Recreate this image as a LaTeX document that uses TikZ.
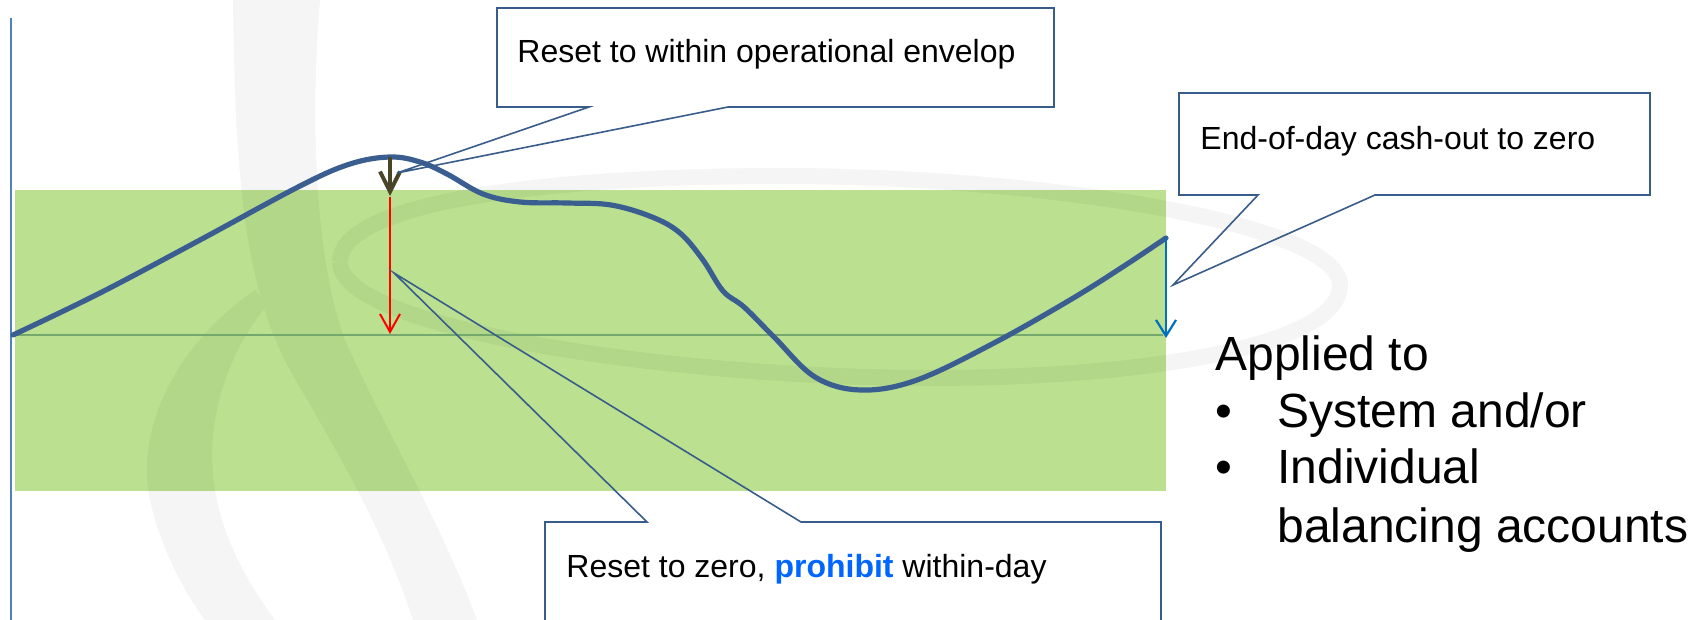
\documentclass[tikz,border=0pt]{standalone}
\usepackage{fontspec}
\setmainfont{Liberation Sans}
\usetikzlibrary{arrows.meta}

\definecolor{bandgreen}{RGB}{187,224,143}
\definecolor{zerogreen}{RGB}{116,168,108}
\definecolor{axisblue}{RGB}{79,129,189}
\definecolor{curveblue}{RGB}{59,94,145}
\definecolor{calloutblue}{RGB}{56,93,138}
\definecolor{darkolive}{RGB}{73,69,41}
\definecolor{endblue}{RGB}{0,112,192}
\definecolor{keyblue}{RGB}{0,102,255}

\tikzset{
  balance/.style={draw=curveblue, line width=2.6pt, line cap=round, line join=round},
  callout/.style={draw=calloutblue, line width=0.8pt, line join=miter},
  calltext/.style={anchor=base west, inner sep=0pt, font=\fontsize{16pt}{19pt}\selectfont},
  bigtext/.style={anchor=base west, inner sep=0pt, font=\fontsize{24pt}{28.5pt}\selectfont},
}

\begin{document}
\begin{tikzpicture}[x=0.5pt, y=-0.5pt]
\useasboundingbox (0,0) rectangle (1701,620);

% operational envelope band
\fill[bandgreen] (15,190) rectangle (1166,491);

% faint logo in the background
\begin{scope}[transparency group, opacity=0.04]
  % long right stroke of the crescent
  \fill[black] (233,0) .. controls (235,150) and (240,280) .. (290,370)
        .. controls (330,440) and (380,520) .. (413,620)
        -- (477,620) .. controls (440,520) and (380,420) .. (345,340)
        .. controls (315,260) and (310,120) .. (320,0) -- cycle;
  % short left stroke of the crescent
  \fill[black] (255,290) .. controls (175,345) and (135,430) .. (150,500)
        .. controls (162,555) and (190,600) .. (205,620)
        -- (275,620) .. controls (238,570) and (212,515) .. (212,455)
        .. controls (212,395) and (240,335) .. (268,305) -- cycle;
  % elliptic swoosh
  \draw[black, line width=8pt] (340,262) .. controls (340,200) and (560,176) .. (780,176)
        .. controls (1050,176) and (1340,225) .. (1340,285)
        .. controls (1340,345) and (1150,378) .. (930,378)
        .. controls (680,378) and (340,330) .. (340,262);
\end{scope}

% zero line and vertical axis
\coordinate (zl) at (13,335);
\coordinate (zr) at (1163,335);
\draw[zerogreen, line width=1pt] (zl) -- (zr);
\coordinate (ax0) at (11,18);
\coordinate (ax1) at (11,620);
\draw[axisblue, line width=0.75pt] (ax0) -- (ax1);

% within-day balance
\coordinate (cend) at (1166,238);
\draw[balance] plot[smooth, tension=0.6] coordinates {
  (13,335) (100,293) (200,240) (300,186) (350,164) (390,157)
  (420,162) (447,174) (483,194) (520,202) (567,203) (611,205) (652,217)
  (680,233) (703,260) (723,291) (744,307) (774,337) (815,377)
  (861,390) (917,380) (994,343) (1070,300) (1121,268) (1166,238)};

% reset arrows
\coordinate (pk) at (390,157);
\coordinate (pkd) at (390,196);
\coordinate (rd0) at (390,197);
\coordinate (rd1) at (390,334);
\draw[darkolive, line width=2pt, -{Straight Barb[length=10pt, width=10pt]}] (pk) -- (pkd);
\draw[red, line width=1pt, -{Straight Barb[length=9pt, width=10pt]}] (rd0) -- (rd1);
\coordinate (eod) at (1166,338);
\draw[endblue, line width=1.1pt, -{Straight Barb[length=8pt, width=10pt]}] (cend) -- (eod);

% callouts
\coordinate (tip1) at (397,173);
\draw[callout] (497,8) -- (1054,8) -- (1054,107) -- (728,107) -- (tip1) -- (589,107) -- (497,107) -- cycle;
\node[calltext] (txt1) at (517,63) {Reset to within operational envelop};

\coordinate (tip2) at (1173,285);
\draw[callout] (1179,93) -- (1650,93) -- (1650,195) -- (1375,195) -- (tip2) -- (1258,195) -- (1179,195) -- cycle;
\node[calltext] (txt2) at (1200,150) {End-of-day cash-out to zero};

\coordinate (tip3) at (394,273);
\draw[callout] (545,630) -- (545,522) -- (647,522) -- (tip3) -- (801,522) -- (1161,522) -- (1161,630);
\node[calltext] (txt3) at (566,577) {Reset to zero, \textcolor{keyblue}{\textbf{prohibit}} within-day};

% scope of application
\node[bigtext] (app) at (1215,370) {Applied to};
\node[bigtext] (b1) at (1215,427) {\textbullet};
\node[bigtext] (sys) at (1277,427) {System and/or};
\node[bigtext] (b2) at (1215,483) {\textbullet};
\node[bigtext] (ind) at (1277,483) {Individual};
\node[bigtext] (bal) at (1277,542) {balancing accounts};
\end{tikzpicture}
\end{document}
